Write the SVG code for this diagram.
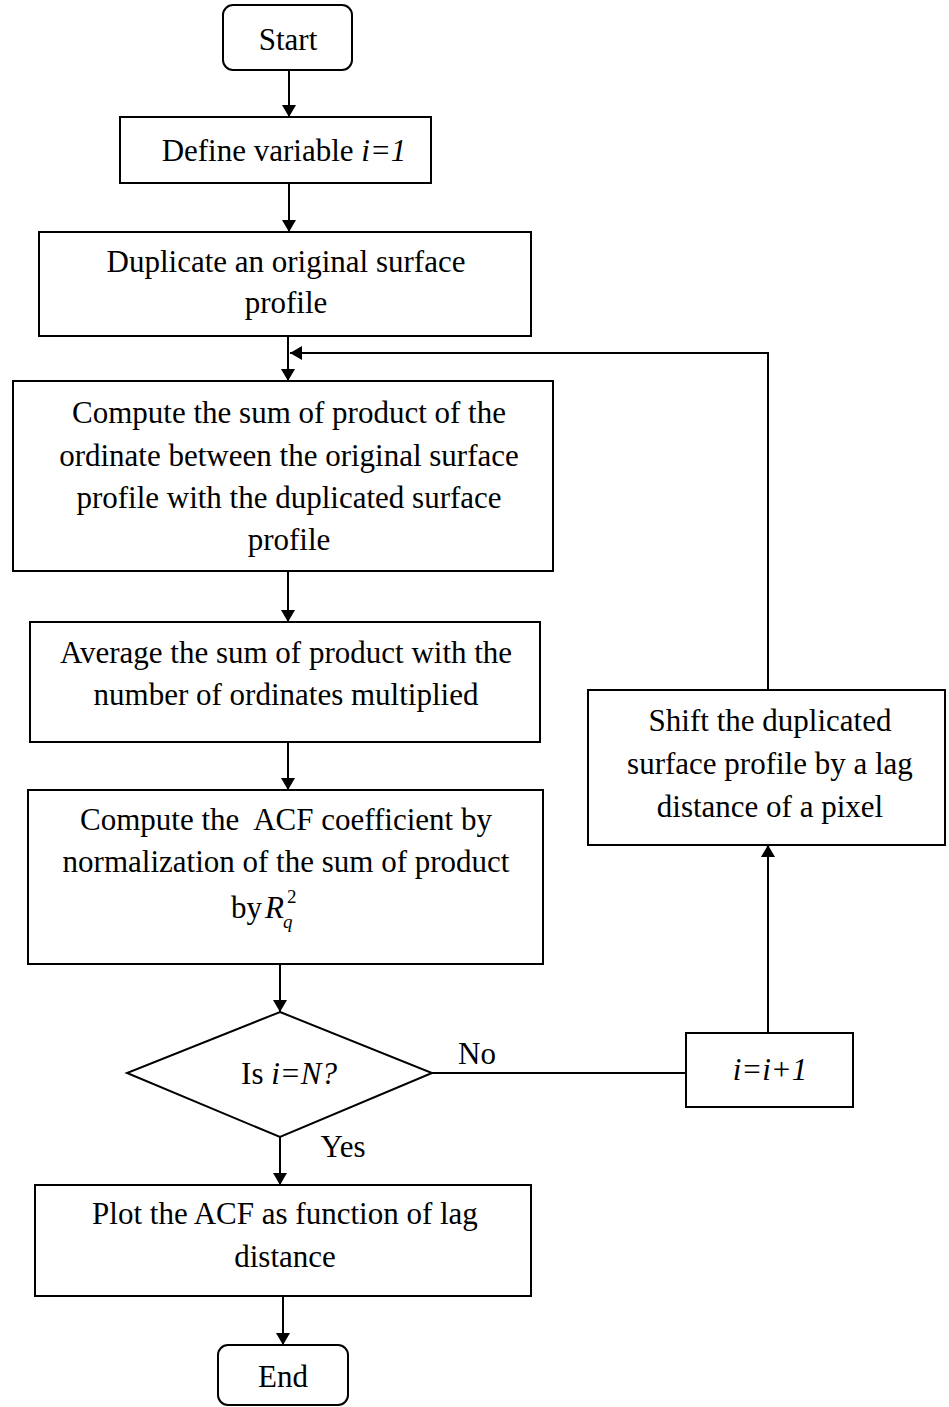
<svg xmlns="http://www.w3.org/2000/svg" width="949" height="1407" viewBox="0 0 949 1407">
<style>
.b{fill:#fff;stroke:#000;stroke-width:2}
.t{font-family:"Liberation Serif","Times New Roman",serif;font-size:31px;fill:#000;text-anchor:middle}
.i{font-style:italic}
.st{text-anchor:start}
.en{text-anchor:end}
.sm{font-size:19px}
.c{fill:none;stroke:#000;stroke-width:2}
</style>
<defs>
<marker id="ah" markerWidth="12" markerHeight="14" refX="12" refY="7" orient="auto" markerUnits="userSpaceOnUse" viewBox="0 0 12 14">
<path d="M0,0 L12,7 L0,14 Z" fill="#000"/>
</marker>
</defs>
<rect width="949" height="1407" fill="#fff"/>
<g id="connectors">
<line class="c" x1="289" y1="70" x2="289" y2="117" marker-end="url(#ah)"/>
<line class="c" x1="289" y1="183" x2="289" y2="232" marker-end="url(#ah)"/>
<line class="c" x1="288" y1="336" x2="288" y2="381" marker-end="url(#ah)"/>
<polyline class="c" points="768,690 768,353 290,353" marker-end="url(#ah)"/>
<line class="c" x1="288" y1="571" x2="288" y2="622" marker-end="url(#ah)"/>
<line class="c" x1="288" y1="742" x2="288" y2="790" marker-end="url(#ah)"/>
<line class="c" x1="280" y1="964" x2="280" y2="1012" marker-end="url(#ah)"/>
<line class="c" x1="432" y1="1073" x2="686" y2="1073"/>
<line class="c" x1="768" y1="1033" x2="768" y2="845" marker-end="url(#ah)"/>
<line class="c" x1="280" y1="1137" x2="280" y2="1185" marker-end="url(#ah)"/>
<line class="c" x1="283" y1="1296" x2="283" y2="1345" marker-end="url(#ah)"/>
<text class="t" x="477" y="1064">No</text>
<text class="t" x="343" y="1157">Yes</text>
</g>
<g id="start">
<rect class="b" x="223" y="5" width="129" height="65" rx="10"/>
<text class="t" x="288" y="50">Start</text>
</g>
<g id="define">
<rect class="b" x="120" y="117" width="311" height="66"/>
<text class="t" x="284" y="161">Define variable <tspan class="i">i=1</tspan></text>
</g>
<g id="duplicate">
<rect class="b" x="39" y="232" width="492" height="104"/>
<text class="t" x="286" y="272">Duplicate an original surface</text>
<text class="t" x="286" y="313">profile</text>
</g>
<g id="compute-sum">
<rect class="b" x="13" y="381" width="540" height="190"/>
<text class="t" x="289" y="423">Compute the sum of product of the</text>
<text class="t" x="289" y="466">ordinate between the original surface</text>
<text class="t" x="289" y="508">profile with the duplicated surface</text>
<text class="t" x="289" y="550">profile</text>
</g>
<g id="average">
<rect class="b" x="30" y="622" width="510" height="120"/>
<text class="t" x="286" y="663">Average the sum of product with the</text>
<text class="t" x="286" y="705">number of ordinates multiplied</text>
</g>
<g id="acf">
<rect class="b" x="28" y="790" width="515" height="174"/>
<text class="t" x="286" y="830" style="white-space:pre">Compute the  ACF coefficient by</text>
<text class="t" x="286" y="872">normalization of the sum of product</text>
<text class="t en" x="262" y="918">by</text>
<text class="t i st" x="265" y="918">R</text>
<text class="t i st sm" x="283" y="928">q</text>
<text class="t st sm" x="287" y="903">2</text>
</g>
<g id="decision">
<polygon class="b" points="280,1012 432,1073 280,1137 127,1073"/>
<text class="t" x="289" y="1084">Is <tspan class="i">i=N?</tspan></text>
</g>
<g id="increment">
<rect class="b" x="686" y="1033" width="167" height="74"/>
<text class="t i" x="770" y="1080">i=i+1</text>
</g>
<g id="shift">
<rect class="b" x="588" y="690" width="357" height="155"/>
<text class="t" x="770" y="731">Shift the duplicated</text>
<text class="t" x="770" y="774">surface profile by a lag</text>
<text class="t" x="770" y="817">distance of a pixel</text>
</g>
<g id="plot">
<rect class="b" x="35" y="1185" width="496" height="111"/>
<text class="t" x="285" y="1224">Plot the ACF as function of lag</text>
<text class="t" x="285" y="1267">distance</text>
</g>
<g id="end">
<rect class="b" x="218" y="1345" width="130" height="60" rx="10"/>
<text class="t" x="283" y="1387">End</text>
</g>
</svg>
